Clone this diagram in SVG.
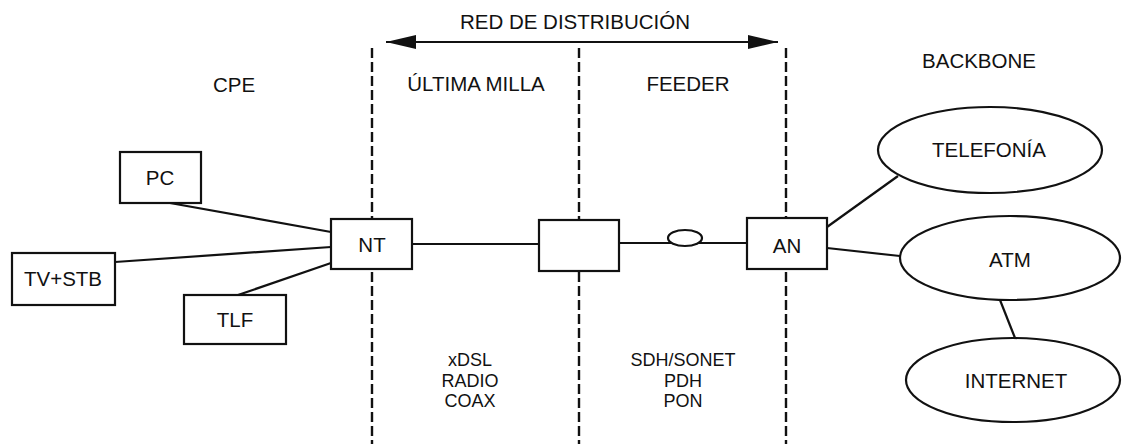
<svg xmlns="http://www.w3.org/2000/svg" width="1122" height="444" viewBox="0 0 1122 444">
<style>
text{font-family:"Liberation Sans",Arial,sans-serif;font-size:20.5px;fill:#111;text-anchor:middle}
text.sm{font-size:18px}
.box{fill:#fff;stroke:#111;stroke-width:2.2}
.ln{stroke:#111;stroke-width:2.2;fill:none}
.dash{stroke:#111;stroke-width:2.4;stroke-dasharray:10 4;fill:none}
</style>
<defs>
<marker id="ah" viewBox="0 0 30 14" refX="30" refY="7" markerWidth="30" markerHeight="14" markerUnits="userSpaceOnUse" orient="auto-start-reverse">
<path d="M0,0 L30,7 L0,14 Z" fill="#111"/>
</marker>
</defs>
<rect width="1122" height="444" fill="#fff"/>
<g id="boundaries">
<line class="dash" x1="372" y1="48" x2="372" y2="444"/>
<line class="dash" x1="579" y1="48" x2="579" y2="444"/>
<line class="dash" x1="786" y1="48" x2="786" y2="444"/>
</g>
<g id="labels">
<text x="575" y="29">RED DE DISTRIBUCIÓN</text>
<text x="234" y="92">CPE</text>
<text x="476" y="91">ÚLTIMA MILLA</text>
<text x="688" y="91">FEEDER</text>
<text x="979" y="68">BACKBONE</text>
<text class="sm" x="470" y="366">xDSL</text>
<text class="sm" x="470" y="386.5">RADIO</text>
<text class="sm" x="470" y="407">COAX</text>
<text class="sm" x="683" y="366">SDH/SONET</text>
<text class="sm" x="683" y="386.5">PDH</text>
<text class="sm" x="683" y="407">PON</text>
</g>
<g id="connectors">
<line class="ln" x1="386" y1="42" x2="778" y2="42" marker-start="url(#ah)" marker-end="url(#ah)"/>
<line class="ln" x1="170" y1="203" x2="331" y2="232"/>
<line class="ln" x1="115" y1="262" x2="331" y2="247"/>
<line class="ln" x1="238" y1="295" x2="331" y2="263"/>
<line class="ln" x1="412" y1="244" x2="539" y2="244"/>
<line class="ln" x1="619" y1="243" x2="747" y2="243"/>
<ellipse class="box" cx="685" cy="238" rx="17" ry="8"/>
<line class="ln" x1="827" y1="227" x2="898" y2="176"/>
<line class="ln" x1="827" y1="248" x2="900" y2="256"/>
<line class="ln" x1="1000" y1="300" x2="1015" y2="338"/>
</g>
<g id="pc"><rect class="box" x="120" y="152" width="81" height="51"/><text x="160" y="185">PC</text></g>
<g id="tvstb"><rect class="box" x="12" y="253" width="103" height="52"/><text x="63" y="286">TV+STB</text></g>
<g id="tlf"><rect class="box" x="184" y="295" width="102" height="49"/><text x="235" y="327">TLF</text></g>
<g id="nt"><rect class="box" x="331" y="219" width="81" height="50"/><text x="372" y="252">NT</text></g>
<g id="mid"><rect class="box" x="539" y="220" width="80" height="51"/></g>
<g id="an"><rect class="box" x="747" y="218" width="80" height="51"/><text x="787" y="253">AN</text></g>
<g id="telefonia"><ellipse class="box" cx="990" cy="150" rx="112" ry="43"/><text x="989" y="157">TELEFONÍA</text></g>
<g id="atm"><ellipse class="box" cx="1010" cy="258" rx="110" ry="42"/><text x="1010" y="267">ATM</text></g>
<g id="internet"><ellipse class="box" cx="1013" cy="380" rx="107" ry="42"/><text x="1016" y="388">INTERNET</text></g>
</svg>
